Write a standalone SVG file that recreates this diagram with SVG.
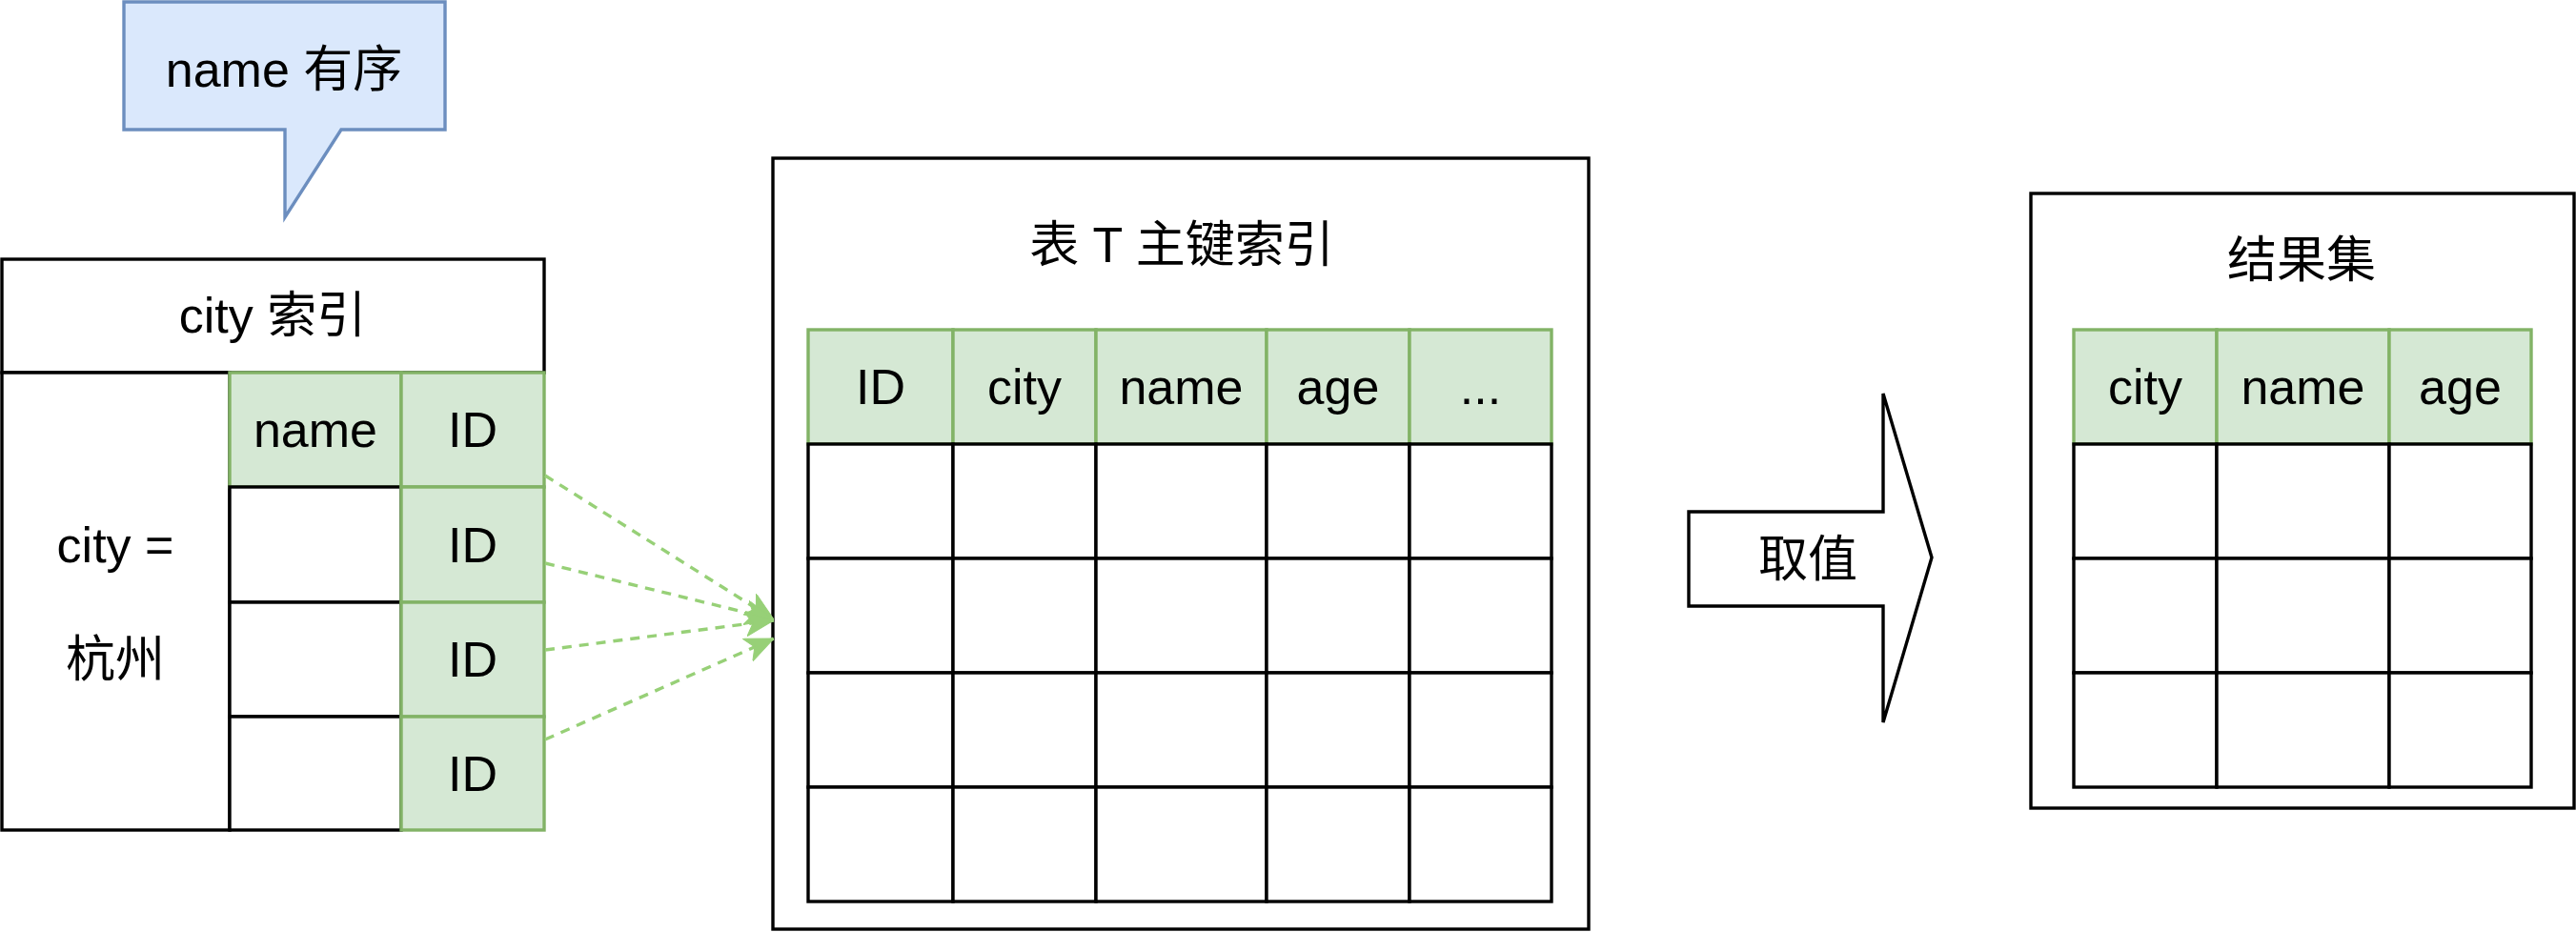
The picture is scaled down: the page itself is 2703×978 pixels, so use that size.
<svg xmlns="http://www.w3.org/2000/svg" width="2703" height="978" viewBox="0 0 2703 978">
<style>
.t{font-family:"Liberation Sans","Noto Sans CJK SC",sans-serif;font-size:52px;text-anchor:middle;fill:#000}
.b{fill:#fff;stroke:#000;stroke-width:3.4}
.g{fill:#d5e8d4;stroke:#82b366;stroke-width:3.4}
.c{fill:none;stroke:#97d077;stroke-width:3.4;stroke-dasharray:10 8;marker-end:url(#ah)}
</style>
<defs>
<marker id="ah" markerUnits="userSpaceOnUse" viewBox="0 0 30 26" markerWidth="30" markerHeight="26" refX="30" refY="13" orient="auto">
<path d="M0,0 L30,13 L0,26 L8,13 Z" fill="#97d077" stroke="#97d077" stroke-width="1"/>
</marker>
</defs>
<rect width="2703" height="978" fill="#fff"/>
<g id="callout">
<polygon points="130,2 467,2 467,136 358,136 299,228 299,136 130,136" fill="#dae8fc" stroke="#6c8ebf" stroke-width="3.4"/>
<text class="t" x="298" y="91">name 有序</text>
</g>
<g id="city-index">
<rect class="b" x="2" y="272" width="569" height="119"/>
<text class="t" x="286" y="349">city 索引</text>
<rect class="b" x="2" y="391" width="239" height="480"/>
<text class="t" x="121" y="590">city =</text>
<text class="t" x="121" y="710">杭州</text>
<rect class="g" x="241" y="391" width="180" height="120"/>
<text class="t" x="331" y="469">name</text>
<rect class="b" x="241" y="511" width="180" height="121"/>
<rect class="b" x="241" y="632" width="180" height="120"/>
<rect class="b" x="241" y="752" width="180" height="119"/>
<rect class="g" x="421" y="391" width="150" height="120"/>
<rect class="g" x="421" y="511" width="150" height="121"/>
<rect class="g" x="421" y="632" width="150" height="120"/>
<rect class="g" x="421" y="752" width="150" height="119"/>
<text class="t" x="496" y="469">ID</text>
<text class="t" x="496" y="590">ID</text>
<text class="t" x="496" y="710">ID</text>
<text class="t" x="496" y="830">ID</text>
</g>
<g id="table-t">
<rect class="b" x="811" y="166" width="856" height="809"/>
<text class="t" x="1240" y="275">表 T 主键索引</text>
<rect class="g" x="848" y="346" width="152" height="120"/>
<rect class="g" x="1000" y="346" width="150" height="120"/>
<rect class="g" x="1150" y="346" width="179" height="120"/>
<rect class="g" x="1329" y="346" width="150" height="120"/>
<rect class="g" x="1479" y="346" width="149" height="120"/>
<text class="t" x="924" y="424">ID</text>
<text class="t" x="1075" y="424">city</text>
<text class="t" x="1239.5" y="424">name</text>
<text class="t" x="1404" y="424">age</text>
<text class="t" x="1553.5" y="424">...</text>
<g>
<rect class="b" x="848" y="466" width="152" height="120"/><rect class="b" x="1000" y="466" width="150" height="120"/><rect class="b" x="1150" y="466" width="179" height="120"/><rect class="b" x="1329" y="466" width="150" height="120"/><rect class="b" x="1479" y="466" width="149" height="120"/>
<rect class="b" x="848" y="586" width="152" height="120"/><rect class="b" x="1000" y="586" width="150" height="120"/><rect class="b" x="1150" y="586" width="179" height="120"/><rect class="b" x="1329" y="586" width="150" height="120"/><rect class="b" x="1479" y="586" width="149" height="120"/>
<rect class="b" x="848" y="706" width="152" height="120"/><rect class="b" x="1000" y="706" width="150" height="120"/><rect class="b" x="1150" y="706" width="179" height="120"/><rect class="b" x="1329" y="706" width="150" height="120"/><rect class="b" x="1479" y="706" width="149" height="120"/>
<rect class="b" x="848" y="826" width="152" height="120"/><rect class="b" x="1000" y="826" width="150" height="120"/><rect class="b" x="1150" y="826" width="179" height="120"/><rect class="b" x="1329" y="826" width="150" height="120"/><rect class="b" x="1479" y="826" width="149" height="120"/>
</g>
</g>
<g id="fetch-arrow">
<polygon points="1772,537 1976,537 1976,413 2027,585 1976,758 1976,636 1772,636" fill="#fff" stroke="#000" stroke-width="3.4"/>
<text class="t" x="1897" y="605">取值</text>
</g>
<g id="result-set">
<rect class="b" x="2131" y="203" width="570" height="645"/>
<text class="t" x="2415" y="291">结果集</text>
<rect class="g" x="2176" y="346" width="150" height="120"/>
<rect class="g" x="2326" y="346" width="181" height="120"/>
<rect class="g" x="2507" y="346" width="149" height="120"/>
<text class="t" x="2251" y="424">city</text>
<text class="t" x="2416.5" y="424">name</text>
<text class="t" x="2581.5" y="424">age</text>
<rect class="b" x="2176" y="466" width="150" height="120"/><rect class="b" x="2326" y="466" width="181" height="120"/><rect class="b" x="2507" y="466" width="149" height="120"/>
<rect class="b" x="2176" y="586" width="150" height="120"/><rect class="b" x="2326" y="586" width="181" height="120"/><rect class="b" x="2507" y="586" width="149" height="120"/>
<rect class="b" x="2176" y="706" width="150" height="120"/><rect class="b" x="2326" y="706" width="181" height="120"/><rect class="b" x="2507" y="706" width="149" height="120"/>
</g>
<g id="connectors">
<path class="c" d="M572,499 L812,650"/>
<path class="c" d="M572,591 L812,650"/>
<path class="c" d="M572,682 L812,651"/>
<path class="c" d="M572,776 L812,670"/>
</g>
</svg>
